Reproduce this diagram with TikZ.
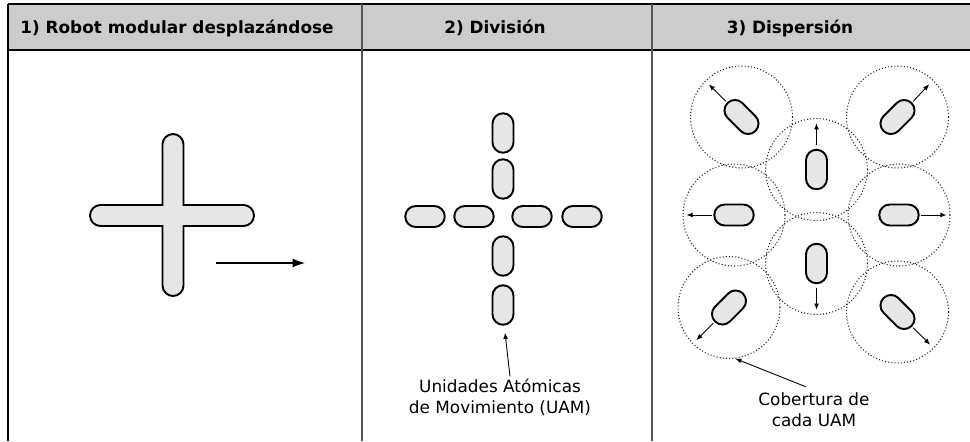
\documentclass[tikz,border=0pt]{standalone}
\usepackage{fontspec}
\setmainfont{DejaVu Sans}
\usepackage{tikz}
\usetikzlibrary{shapes.misc, arrows.meta, calc}

\definecolor{headgray}{HTML}{CCCCCC}
\definecolor{uamgray}{HTML}{E6E6E6}
\definecolor{rulegray}{HTML}{555555}

\begin{document}
\begin{tikzpicture}[
    x=0.02cm, y=-0.02cm,
    font=\fontsize{9.6}{12}\selectfont,
    head/.style={font=\fontsize{9.6}{12}\selectfont\bfseries, inner sep=0pt},
    label/.style={align=center, inner sep=1pt},
    uam/.style={
        rounded rectangle,
        draw, line width=1.1pt, fill=uamgray,
        minimum width=0.79cm, minimum height=0.42cm,
        inner sep=0pt
    },
    robot/.style={draw, line width=1.1pt, fill=uamgray},
    cover/.style={
        circle, draw=black!85, line width=0.6pt,
        dash pattern=on 0.6pt off 1.2pt,
        minimum size=2.04cm, inner sep=0pt
    },
    move/.style={-{Latex[length=3.5pt, width=2.8pt]}, line width=0.5pt},
    pointer/.style={-{Latex[length=3.5pt, width=2.8pt]}, line width=0.5pt}
]
    \useasboundingbox (0,0) rectangle (970,441);

    \fill[headgray] (8,4) rectangle (970,50);
    \draw[line width=1pt] (8,4) -- (970,4);
    \draw[line width=1pt] (8,50) -- (970,50);
    \draw[line width=1pt] (8,4) -- (8,441);
    \draw[rulegray, line width=1pt] (362,4) -- (362,441);
    \draw[rulegray, line width=1pt] (652,4) -- (652,441);

    \node[head, anchor=base west] (h1) at (20,33) {1) Robot modular desplazándose};
    \node[head, anchor=base] (h2) at (495,33) {2) División};
    \node[head, anchor=base] (h3) at (790,33) {3) Dispersión};

    \draw[robot] (162.5,205) -- (162.5,144.5)
        arc[start angle=180, end angle=360, radius=10.5] -- (183.5,205) -- (243.5,205)
        arc[start angle=270, end angle=450, radius=10.5] -- (183.5,226) -- (183.5,285.5)
        arc[start angle=0, end angle=180, radius=10.5] -- (162.5,226) -- (100.5,226)
        arc[start angle=90, end angle=270, radius=10.5] -- cycle;
    \coordinate (m0) at (216,263);
    \coordinate (m1) at (305,263);
    \draw[-{Latex[length=7pt, width=5pt]}, line width=0.7pt] (m0) -- (m1);

    \node[uam, rotate=90] (d1) at (503,133) {};
    \node[uam, rotate=90] (d2) at (503,179) {};
    \node[uam] (d3) at (425,216.5) {};
    \node[uam] (d4) at (474,216.5) {};
    \node[uam] (d5) at (532,216.5) {};
    \node[uam] (d6) at (582,216.5) {};
    \node[uam, rotate=90] (d7) at (503,256) {};
    \node[uam, rotate=90] (d8) at (503,305) {};
    \node[label] (uamtxt) at (500,397) {Unidades Atómicas\\de Movimiento (UAM)};
    \draw[pointer] ($(uamtxt.north)+(10,0)$) -- ($(d8.west)+(2,7)$);

    \foreach \n/\px/\py in {tl/741.5/117, tr/897.5/117, ct/816.5/169.5, ml/734/215,
                            mr/899/215, cb/816.5/263.5, bl/729/307.5, br/897.5/312} {
        \node[cover] (c\n) at (\px,\py) {};
    }
    \foreach \n/\px/\py/\r in {tl/741.5/117/135, tr/897.5/117/45, ct/816.5/169.5/90, ml/734/215/0,
                               mr/899/215/0, cb/816.5/263.5/90, bl/729/307.5/45, br/897.5/312/135} {
        \node[uam, rotate=\r] (u\n) at (\px,\py) {};
    }
    \draw[move] ([shift={(-1,-1)}]utl.east) -- ++(-17,-17);
    \draw[move] ([shift={(1,-1)}]utr.east) -- ++(16,-17);
    \draw[move] ([yshift=2pt]uct.east) -- ++(0,-22);
    \draw[move] ([xshift=-1pt]uml.west) -- ++(-25,0);
    \draw[move] ([xshift=1pt]umr.east) -- ++(25,0);
    \draw[move] ([yshift=-2pt]ucb.west) -- ++(0,22);
    \draw[move] ([shift={(-1,1)}]ubl.west) -- ++(-17,17);
    \draw[move] ([shift={(1,1)}]ubr.west) -- ++(17,17);
    \node[label] (cobtxt) at (814,410) {Cobertura de\\cada UAM};
    \draw[pointer] ($(cobtxt.north)+(-8,-4)$) -- (cbl.-83);
\end{tikzpicture}
\end{document}
